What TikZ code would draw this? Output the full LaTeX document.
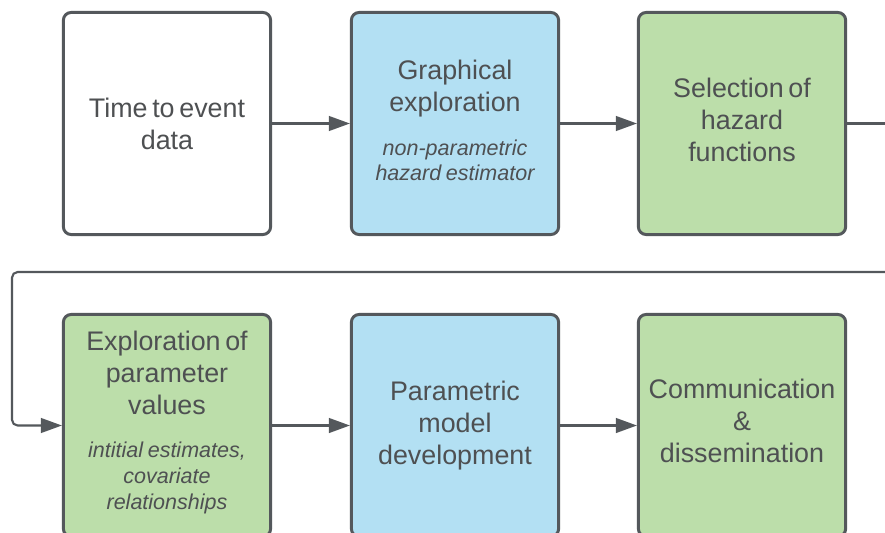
\documentclass[tikz,border=0pt]{standalone}
\usepackage{fontspec}
\setmainfont{Liberation Sans}
\usetikzlibrary{arrows.meta}
\definecolor{edgegray}{RGB}{84,88,92}
\definecolor{textgray}{RGB}{78,80,82}
\definecolor{stepblue}{RGB}{179,224,243}
\definecolor{stepgreen}{RGB}{188,222,170}
\newcommand{\steptitle}[1]{{\fontsize{19.1}{22.7}\selectfont #1\par}}
\newcommand{\stepnote}[1]{\vspace{12.5pt}{\itshape\fontsize{15.3}{18.4}\selectfont #1\par}}
\begin{document}
\begin{tikzpicture}[x=0.025cm, y=-0.025cm,
    stepbox/.style={draw=edgegray, line width=2.1pt, rounded corners=5.5pt,
        minimum width=5.18cm, minimum height=5.55cm, text width=4.9cm,
        align=center, text=textgray, inner sep=0pt},
    flow/.style={draw=edgegray, line width=1.5pt, rounded corners=4pt,
        -{Triangle[length=15pt, width=10.5pt]}}]
    \clip (0,0) rectangle (885,532);
    \fill[white] (0,0) rectangle (885,532);
    % Top row
    \node[stepbox, fill=white] (data) at (167,123.5)
        {\steptitle{Time to event\\data}};
    \node[stepbox, fill=stepblue] (graph) at (455,123.5)
        {\steptitle{Graphical\\exploration}\stepnote{non-parametric\\hazard estimator}\vspace{4pt}};
    \node[stepbox, fill=stepgreen] (select) at (742,123.5)
        {\steptitle{Selection of\\hazard\\functions}\vspace{5pt}};
    % Bottom row
    \node[stepbox, fill=stepgreen] (explore) at (167,425.5)
        {\steptitle{Exploration of\\parameter\\values}\stepnote{intitial estimates,\\covariate\\relationships}\vspace{4pt}};
    \node[stepbox, fill=stepblue] (model) at (455,425.5)
        {\steptitle{Parametric\\model\\development}};
    \node[stepbox, fill=stepgreen] (comm) at (742,425.5)
        {\steptitle{Communication\\\&\\dissemination}\vspace{6pt}};
    % Connectors
    \coordinate (rowend) at (885,123.5);
    \coordinate (wrapstart) at (885,272);
    \coordinate (wrapcorner) at (12,272);
    \draw[flow] (data) -- (graph);
    \draw[flow] (graph) -- (select);
    \draw[flow, -] (select) -- (rowend);
    \draw[flow] (wrapstart) -- (wrapcorner) |- (explore.west);
    \draw[flow] (explore) -- (model);
    \draw[flow] (model) -- (comm);
\end{tikzpicture}
\end{document}
